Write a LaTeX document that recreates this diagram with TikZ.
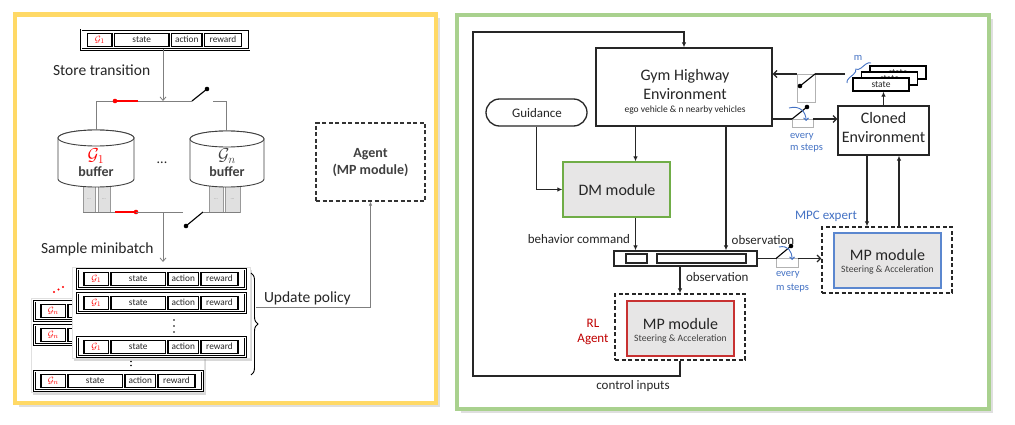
\documentclass[tikz,border=0pt]{standalone}
\usepackage{fontspec}
\setmainfont{Carlito}
\usetikzlibrary{arrows.meta,decorations.pathreplacing,shadows}
\definecolor{frameY}{HTML}{FFD966}
\definecolor{frameG}{HTML}{A9D18E}
\definecolor{dkred}{HTML}{C00000}
\definecolor{bluetxt}{HTML}{4472C4}
\definecolor{boxfill}{HTML}{E7E6E6}
\definecolor{dmgreen}{HTML}{70AD47}
\definecolor{txt}{HTML}{262626}
\definecolor{dgrey}{HTML}{404040}
\definecolor{lgrey}{HTML}{7F7F7F}
\definecolor{redG}{HTML}{FF0000}
\definecolor{mpblue}{HTML}{5B87CF}
\definecolor{mpred}{HTML}{C83232}
\newcommand{\fs}[1]{\fontsize{#1}{#1}\selectfont}
\newcommand{\recrow}[4]{%
  \node[recout] (#3o) at (#1,#2) {};
  \node[cellbox, minimum width=24.5] (#3g) at (#1+6.5,#2+3.2) {\color{redG}$\mathcal{G}_{#4}$};
  \node[cellbox, minimum width=54.5] (#3s) at (#1+33.5,#2+3.2) {state};
  \node[cellbox, minimum width=30.5] (#3a) at (#1+90.5,#2+3.2) {action};
  \node[cellbox, minimum width=37] (#3r) at (#1+123.5,#2+3.2) {reward};
}
\newcommand{\drawcyl}[4]{%
  \filldraw[cyl] (#1-#4,#2) -- (#1-#4,#3) arc (180:360:#4pt and 8pt)
     -- (#1+#4,#2) arc (0:180:#4pt and 8pt) -- cycle;
  \draw[cyl] (#1,#2) ellipse (#4pt and 8pt);
}
\tikzset{
  recout/.style={draw=black, line width=0.7pt, double=white, double distance=1pt, fill=white,
     inner sep=0pt, outer sep=0pt, anchor=north west, minimum width=168, minimum height=19.5},
  cellbox/.style={draw=black, line width=1.2pt, fill=white, inner sep=0pt, outer sep=0pt,
     anchor=north west, minimum height=13, font=\fs{9.3}, text=txt},
  lbl/.style={inner sep=0pt, outer sep=0pt, text=txt},
  cyl/.style={draw=black!75, fill=white, line width=0.9pt},
  slot/.style={draw=black!40, fill=black!12, line width=0.5pt},
  gline/.style={draw=lgrey, line width=0.8pt},
  redseg/.style={draw=red, line width=1.3pt},
  blade/.style={draw=black, line width=1.1pt},
  tipV/.style={-{Straight Barb[length=3.5pt,width=6pt]}},
  tipF/.style={-{Latex[length=5pt,width=4.5pt]}},
  panel/.style={fill=white, draw=black!12, line width=0.4pt, inner sep=0pt, anchor=north west,
     drop shadow={shadow xshift=2pt, shadow yshift=-2.5pt, opacity=0.3}},
  dbox/.style={draw=black!85, line width=1.3pt, dash pattern=on 4pt off 2.5pt, inner sep=0pt},
  rbox/.style={draw=black!85, line width=1.3pt, fill=white, inner sep=0pt},
  rline/.style={draw=black!85, line width=1.2pt},
  stbox/.style={draw=black, line width=1.3pt, fill=white, inner sep=0pt, minimum width=56,
     minimum height=13, font=\fs{9.5}, text=txt},
  gbox/.style={draw=black!30, line width=0.6pt},
  barc/.style={draw=bluetxt, line width=0.9pt, -{Straight Barb[length=2.5pt,width=5pt]}},
}
\begin{document}
\begin{tikzpicture}[x=1pt,y=-1pt]
\useasboundingbox (0,0) rectangle (1015,425);
\fill[white] (0,0) rectangle (1015,425);
% ---------- frames ----------
\path[fill=white, draw=frameY, line width=4.5pt,
  drop shadow={shadow xshift=4pt, shadow yshift=-4pt, opacity=0.25}] (15,14.5) rectangle (436,403);
\path[fill=white, draw=frameG, line width=4pt,
  drop shadow={shadow xshift=4pt, shadow yshift=-4pt, opacity=0.25}] (457,15) rectangle (989,409);

% ================= LEFT PANEL =================
\recrow{81}{30}{top}{1}
\node[lbl, anchor=base west, font=\fs{15.5}] (storet) at (53,76) {Store transition};

% slots
\path[slot] (83,178) rectangle (95,212) (98,178) rectangle (110,212)
            (209,178) rectangle (223,212) (225,178) rectangle (240,212);
\foreach \sx/\nm in {89/s1,104/s2,216/s3,232.5/s4}
  \node[lbl, text=black!45, font=\fs{5}] (\nm) at (\sx,199) {...};
% cylinders
\drawcyl{96}{138}{179}{38}
\drawcyl{227}{139}{179}{37}
\node[lbl, anchor=base, font=\fs{17}, text=redG] (g1t) at (96,160.5) {$\mathcal{G}_1$};
\node[lbl, anchor=base, font=\bfseries\fs{14}, text=dgrey] (b1t) at (96,176.5) {buffer};
\node[lbl, anchor=base, font=\fs{17}, text=dgrey] (gnt) at (227,160.5) {$\mathcal{G}_n$};
\node[lbl, anchor=base, font=\bfseries\fs{14}, text=dgrey] (bnt) at (227,177) {buffer};
\node[lbl, font=\fs{14}] (cdots) at (162,163) {...};

% top distribution line
\coordinate (j1) at (163,101);
\coordinate (tL) at (96,101);
\coordinate (tR) at (226,101);
\draw[gline, tipV] (j1 |- topo.south) -- (j1);
\draw[gline] (96,130) -- (tL) -- (115,101);
\draw[redseg] (115,101) -- (138,101);
\fill[red] (115,101) circle (2.3pt);
\draw[gline] (138,101) -- (192,101);
\draw[blade] (192,101) -- (207,89);
\fill[black] (207,89) circle (2.3pt);
\draw[gline] (213,101) -- (tR) -- (226,131);

% bottom collecting line
\coordinate (j2) at (163,212);
\draw[gline] (83,212) -- (115,212);
\draw[redseg] (115,212) -- (136,212);
\fill[red] (136,212) circle (2.3pt);
\draw[gline] (136,212) -- (183,212);
\draw[blade] (203,212) -- (186,226);
\fill[black] (186,226) circle (2.3pt);
\draw[gline] (203,212) -- (240,212);
\coordinate (j3) at (163,262);
\draw[gline, tipV] (j2) -- (j3);
\node[lbl, anchor=base west, font=\fs{15.5}] (samplet) at (41,253) {Sample minibatch};

% minibatch panels
\node[panel, minimum width=173, minimum height=94] (pback) at (31,298) {};
\recrow{34.5}{301}{ba}{n}
\recrow{34.5}{325}{bb}{n}
\recrow{34.5}{371}{bc}{n}
\fill[redG] (54,292) circle (1.1pt) (58.5,289.5) circle (1.1pt) (63,287) circle (1.1pt);
\fill[black] (131,357.5) circle (0.9pt) (131,361.5) circle (0.9pt) (131,365.5) circle (0.9pt);
\node[panel, minimum width=178, minimum height=91] (pfront) at (72,267) {};
\recrow{77.5}{269}{fa}{1}
\recrow{77.5}{293}{fb}{1}
\recrow{77.5}{337}{fc}{1}
\fill[black] (174,320) circle (0.9pt) (174,326) circle (0.9pt) (174,332) circle (0.9pt);

% brace + update policy
\draw[black, line width=0.9pt, decorate, decoration={brace, amplitude=7pt}] (251,273) -- (251,375);
\node[dbox, draw=black!80, minimum width=109, minimum height=78] (agent) at (370.5,162) {};
\node[lbl, anchor=base, font=\bfseries\fs{14}, text=dgrey] (agt1) at (370.5,158) {Agent};
\node[lbl, anchor=base, font=\bfseries\fs{14}, text=dgrey] (agt2) at (370.5,175) {(MP module)};
\coordinate (upd) at (256,307);
\draw[gline, -{Latex[length=4pt,width=3.5pt]}] (upd) -| (agent.south);
\node[lbl, anchor=base west, font=\fs{15.5}] (updt) at (264,302) {Update policy};

% ================= RIGHT PANEL =================
\node[rbox, minimum width=176, minimum height=78] (gym) at (684,87) {};
\node[lbl, anchor=base, font=\fs{16}] (gymt1) at (685,80.5) {Gym Highway};
\node[lbl, anchor=base, font=\fs{16}] (gymt2) at (685,100) {Environment};
\node[lbl, anchor=base, font=\fs{9.5}] (gymt3) at (685,113) {ego vehicle \& n nearby vehicles};

\node[rbox, rounded corners=13.5pt, minimum width=101, minimum height=27] (guid) at (536.5,112.5) {};
\node[lbl, anchor=base, font=\fs{13}] (guidt) at (537,117.5) {Guidance};

\node[rbox, fill=boxfill, draw=dmgreen, minimum width=107, minimum height=55] (dm) at (616.5,189.5) {};
\node[lbl, anchor=base, font=\fs{16}] (dmt) at (617,195) {DM module};

\node[rbox, minimum width=143, minimum height=15] (bar) at (685.5,258.5) {};
\node[rbox, minimum width=21, minimum height=9] (barA) at (636.5,258.5) {};
\node[rbox, minimum width=89, minimum height=9] (barB) at (701.5,258.5) {};

\node[dbox, minimum width=130, minimum height=66] (rl) at (680,327) {};
\node[rbox, fill=boxfill, draw=mpred, minimum width=107, minimum height=55] (rlmp) at (680.5,328.5) {};
\node[lbl, anchor=base, font=\fs{16}] (rlt1) at (680.5,329) {MP module};
\node[lbl, anchor=base, font=\fs{9.7}, text=dgrey] (rlt2) at (680.5,341.5) {Steering \& Acceleration};
\node[lbl, anchor=base, font=\fs{13}, text=dkred] (rla) at (593,327) {RL};
\node[lbl, anchor=base, font=\fs{13}, text=dkred] (rlb) at (593,342) {Agent};

\node[dbox, minimum width=130, minimum height=66] (mpc) at (887,260) {};
\node[rbox, fill=boxfill, draw=mpblue, minimum width=107, minimum height=55] (mpcmp) at (887.5,260.5) {};
\node[lbl, anchor=base, font=\fs{16}] (mpt1) at (887.5,260) {MP module};
\node[lbl, anchor=base, font=\fs{9.7}, text=dgrey] (mpt2) at (887.5,272.5) {Steering \& Acceleration};
\node[lbl, anchor=base, font=\fs{13}, text=bluetxt] (mpce) at (826,219) {MPC expert};

\node[rbox, minimum width=91, minimum height=49] (cloned) at (883.5,130.5) {};
\node[lbl, anchor=base, font=\fs{16}] (clt1) at (883.5,124) {Cloned};
\node[lbl, anchor=base, font=\fs{16}] (clt2) at (883.5,143) {Environment};

\node[stbox] (st3) at (898,72.5) {};
\node[lbl, anchor=base, font=\fs{9.5}] (st3t) at (898,75.5) {state};
\node[stbox] (st2) at (889.5,78.5) {};
\node[lbl, anchor=base, font=\fs{9.5}] (st2t) at (889.5,81.5) {state};
\node[stbox] (st1) at (881,84.5) {state};

% ---- connectors ----
\coordinate (lpA) at (473,376);
\coordinate (lpB) at (473,32);
\draw[rline, tipF] (rl.south) |- (lpA) -- (lpB) -| (gym.north);
\node[lbl, anchor=base, font=\fs{13}] (ctrl) at (633,389) {control inputs};

\coordinate (x635) at (635.5,0);
\coordinate (x726) at (726,0);
\draw[rline, tipF] (gym.south -| x635) -- (dm.north -| x635);
\draw[rline, tipF] (guid.south) |- (dm.west);
\draw[rline, tipF] (dm.south -| x635) -- (bar.north -| x635);
\draw[rline, tipF] (gym.south -| x726) -- (bar.north -| x726);
\draw[rline, tipF] (bar.south -| rl.north) -- (rl.north);
\node[lbl, anchor=base east, font=\fs{13}] (behc) at (630,243) {behavior command};
\node[lbl, anchor=base, font=\fs{13}] (obs1) at (763,244) {observation};
\node[lbl, anchor=base west, font=\fs{13}] (obs2) at (686,281.5) {observation};

% upper switch: state -> gym
\path[gbox] (797,74) rectangle (815,102);
\coordinate (u1) at (845,74);
\coordinate (u2) at (797,74);
\draw[rline] (u1) -- (815,74);
\draw[blade] (815,74) -- (800,86);
\fill[black] (800,86) circle (2.3pt);
\draw[rline, -{Straight Barb[length=3.5pt,width=7pt]}] (u2) -- (u2 -| gym.east);
\draw[bluetxt, line width=0.9pt, decorate, decoration={brace, amplitude=5pt}] (847,83) -- (871,63);
\node[lbl, anchor=base, font=\fs{10.5}, text=bluetxt] (mlab) at (858,61) {m};

% lower switch: gym -> cloned
\path[gbox] (792,119) rectangle (813,127);
\coordinate (l1) at (792,119);
\coordinate (l2) at (813,119);
\draw[rline] (l1 -| gym.east) -- (l1);
\draw[blade] (l1) -- (807,107);
\fill[black] (807,107) circle (2.3pt);
\draw[rline, -{Straight Barb[length=3.5pt,width=7pt]}] (l2) -- (l2 -| cloned.west);
\draw[barc] (789,108) .. controls (800,105) and (806,112) .. (806,121);
\node[lbl, anchor=base west, font=\fs{10.5}, text=bluetxt] (ev1) at (790,138.5) {every};
\node[lbl, anchor=base west, font=\fs{10.5}, text=bluetxt] (ms1) at (790,151) {m steps};

% bar -> mpc switch
\path[gbox] (776,258.5) rectangle (798,267);
\coordinate (b1) at (776,258.5);
\coordinate (b2) at (798,258.5);
\draw[rline] (bar.east) -- (b1);
\draw[blade] (b1) -- (791,246);
\fill[black] (791,246) circle (2.3pt);
\draw[rline, -{Straight Barb[length=3.5pt,width=7pt]}] (b2) -- (b2 -| mpc.west);
\draw[barc] (779,247) .. controls (788,245) and (792,251) .. (792,260);
\node[lbl, anchor=base west, font=\fs{10.5}, text=bluetxt] (ev2) at (776,276.5) {every};
\node[lbl, anchor=base west, font=\fs{10.5}, text=bluetxt] (ms2) at (776,290) {m steps};

% cloned <-> state / mpc
\coordinate (x867) at (867,0);
\coordinate (x899) at (899,0);
\draw[rline, tipF] (cloned.north) -- (cloned.north |- st1.south);
\draw[rline, tipF] (cloned.south -| x867) -- (mpc.north -| x867);
\draw[rline, tipF] (mpc.north -| x899) -- (cloned.south -| x899);
\end{tikzpicture}
\end{document}
